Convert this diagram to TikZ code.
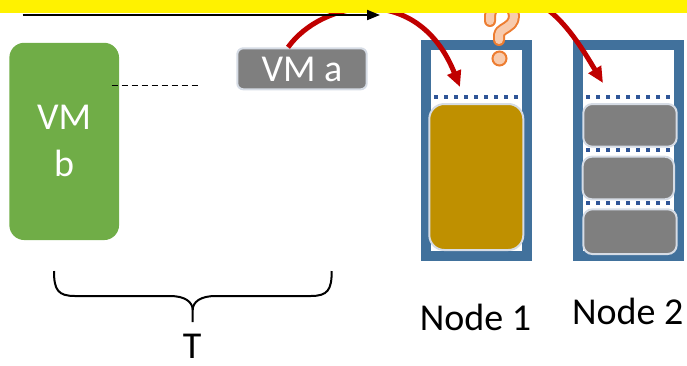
\documentclass[tikz,border=0pt]{standalone}
\usepackage{fontspec}
\setmainfont{Carlito}
\usetikzlibrary{arrows.meta,positioning}

\definecolor{vmgreen}{HTML}{70AD47}
\definecolor{vmgray}{HTML}{7F7F7F}
\definecolor{vmgold}{HTML}{BF9000}
\definecolor{edgeblue}{HTML}{D6DCE5}
\definecolor{hostblue}{HTML}{41719C}
\definecolor{slotblue}{HTML}{2F5597}
\definecolor{migred}{HTML}{C00000}
\definecolor{qorange}{HTML}{ED7D31}
\definecolor{qpeach}{HTML}{F8CBAD}

\begin{document}
\begin{tikzpicture}[>=Stealth, x=1pt, y=-1pt,
  big/.style={font=\fontsize{38}{47}\selectfont},
  vmbox/.style={draw=edgeblue, line width=2pt, rounded corners=6pt, fill=vmgray},
  host/.style={draw=hostblue, line width=10pt},
  slots/.style={draw=slotblue, line width=4pt, dash pattern=on 4pt off 6pt},
  migrate/.style={draw=migred, line width=5pt, -{Triangle[length=16pt,width=14pt]}},
  qmark/.style={line cap=round, line join=round}]
  \useasboundingbox (0,0) rectangle (687,365);

  % VM b and VM a
  \node[big, fill=vmgreen, rounded corners=15pt, text=white, align=center,
        minimum width=109.7, minimum height=197.3] (vmb) at (64.2,141.4) {VM\\b};
  \node[vmbox, big, text=white, inner sep=0pt, text height=24.4pt, text depth=0pt,
        minimum width=129.4, minimum height=41] (vma) at (302,68.8) {VM a};
  \coordinate (dstart) at (111.7,85.3);
  \coordinate (dend) at (199,85.3);
  \draw[dash pattern=on 6pt off 4pt, line width=1pt] (dstart) -- (dend);

  % the two hosts
  \foreach \y in {97.3,150.3,203} {
    \draw[slots] (424,\y) -- (528,\y);
    \draw[slots] (576,\y) -- (680,\y);
  }
  \node[host, minimum width=101.1, minimum height=211.3] (host1) at (476.25,150.35) {};
  \node[host, minimum width=101.1, minimum height=211.3] (host2) at (628.25,150.35) {};
  \node[vmbox, fill=vmgold, rounded corners=15pt, minimum width=94, minimum height=146] (big1) at (476.3,177) {};
  \node[vmbox, rounded corners=9pt, minimum width=93.4, minimum height=42.7] (small1) at (630,125.35) {};
  \node[vmbox, rounded corners=9pt, minimum width=91.3, minimum height=42.6] (small2) at (628.35,178) {};
  \node[vmbox, rounded corners=9pt, minimum width=93.4, minimum height=44.7] (small3) at (630,231.65) {};

  % migrations
  \coordinate (slot1) at (460,87);
  \coordinate (slot2) at (603,83);
  \coordinate (hidden) at (530,0);
  \draw[migrate] ([xshift=-14pt]vma.north) .. controls (322,0) and (418,-18) .. (slot1);
  \draw[migrate] (hidden) .. controls (560,10) and (583,50) .. (slot2);

  % question mark
  \draw[qorange, line width=12pt, qmark] (490,21) -- (490,16)
    arc[start angle=180, end angle=400, radius=12]
    .. controls (506,29) and (499,30) .. (499,35) -- (499,40);
  \draw[qpeach, line width=8pt, qmark] (490,21) -- (490,16)
    arc[start angle=180, end angle=400, radius=12]
    .. controls (506,29) and (499,30) .. (499,35) -- (499,40);
  \draw[qorange, fill=qpeach, line width=2pt] (499.5,58.5) circle[radius=7];

  \fill[yellow] (0,0) rectangle (687,13);
  \coordinate (tstart) at (22.7,15);
  \coordinate (tend) at (380,15);
  \draw[line width=2pt, -{Triangle[length=13pt,width=10pt]}] (tstart) -- (tend);

  % brace
  \draw[line width=2pt] (54,271) .. controls (54,290) and (58,296) .. (75,296) -- (170,296)
    .. controls (185,296) and (192.7,302) .. (192.7,310) -- (192.7,322);
  \draw[line width=2pt] (331.7,271) .. controls (331.7,290) and (327.7,296) .. (310.7,296) -- (215.4,296)
    .. controls (200.4,296) and (192.7,302) .. (192.7,310);

  % labels
  \node[big, anchor=base] (label1) at (475.5,330) {Node 1};
  \node[big, anchor=base] (label2) at (627.7,324) {Node 2};
  \node[big, anchor=base, inner sep=0pt] (tlabel) at (192.2,358) {T};
\end{tikzpicture}
\end{document}
